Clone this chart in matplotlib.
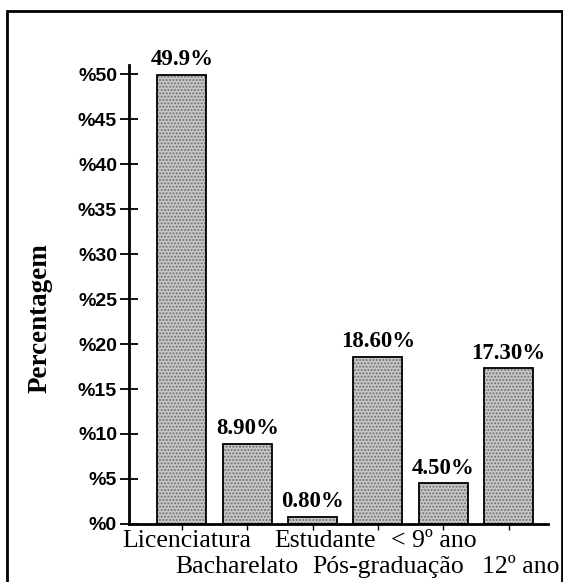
import matplotlib.pyplot as plt
import matplotlib.patches as mpatches
import matplotlib.transforms as mtransforms
import numpy as np

categories = ["Licenciatura", "Bacharelato", "Estudante", "Pós-graduação", "< 9º ano", "12º ano"]
values = [49.9, 8.9, 0.8, 18.6, 4.5, 17.3]
value_labels = ["49.9%", "8.90%", "0.80%", "18.60%", "4.50%", "17.30%"]
yticks = [0, 5, 10, 15, 20, 25, 30, 35, 40, 45, 50]
ytick_labels = ["%" + str(v) for v in yticks]

fig = plt.figure(figsize=(5.63, 5.82), dpi=100)
ax = fig.add_axes([0.229, 0.0997, 0.744, 0.7885])

x = np.arange(len(categories))
# stippled fill, then plain outline on top
ax.bar(x, values, width=0.75, color="#c8c8c8", edgecolor="#707070", hatch=".....", linewidth=0)
ax.bar(x, values, width=0.75, fill=False, edgecolor="black", linewidth=1.3)

for xi, v, lab in zip(x, values, value_labels):
    ax.text(xi, v + 0.5, lab, ha="center", va="bottom", fontsize=16.5,
            fontweight="bold", family="Liberation Serif")

ax.set_xlim(-0.81, 5.6)
ax.set_ylim(0, 51)
ax.set_yticks(yticks)
ax.set_yticklabels(ytick_labels, fontsize=14, fontweight="bold", family="Liberation Sans")
ax.set_xticks(x)
ax.set_xticklabels(categories, fontsize=18.5, family="Liberation Serif")
ax.tick_params(axis="y", direction="inout", length=13, width=1.3, pad=2)
ax.tick_params(axis="x", direction="out", length=4, width=1.0, pad=0)

# staggered labels: every second one on a lower row, a little off its tick
shifts = [5, -10, 12, 10, -9, 12]
for i, (tick, dx) in enumerate(zip(ax.xaxis.get_major_ticks(), shifts)):
    if i % 2 == 1:
        tick.set_pad(19)
    lab = tick.label1
    lab.set_transform(lab.get_transform() + mtransforms.ScaledTranslation(dx / 100, 0, fig.dpi_scale_trans))

for s in ["top", "right"]:
    ax.spines[s].set_visible(False)
ax.spines["left"].set_linewidth(2)
ax.spines["bottom"].set_linewidth(2)

fig.text(0.072, 0.454, "Percentagem", rotation=90, ha="center", va="center",
         fontsize=19.5, fontweight="bold", family="Liberation Serif")

# frame around the whole figure
fig.patches.append(mpatches.Rectangle((7 / 563, -0.01), 555 / 563, 1 - 11 / 582 + 0.01,
                                      transform=fig.transFigure, fill=False,
                                      edgecolor="black", linewidth=2))

fig.savefig("out.png", dpi=100)
